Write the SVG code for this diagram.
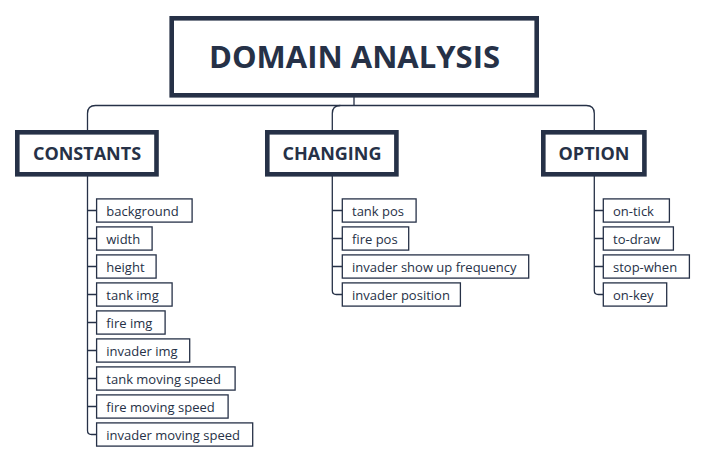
<svg xmlns="http://www.w3.org/2000/svg" width="708" height="463" viewBox="0 0 708 463">
<style>
.main{fill:#fff;stroke:#263147;stroke-width:4.6}
.leaf{fill:#fff;stroke:#263147;stroke-width:1.3}
.t0{font-family:"Open Sans","Liberation Sans",sans-serif;font-weight:bold;font-size:31px;fill:#263147;text-anchor:middle}
.t1{font-family:"Open Sans","Liberation Sans",sans-serif;font-weight:bold;font-size:18px;fill:#263147;text-anchor:middle}
.t2{font-family:"Open Sans","Liberation Sans",sans-serif;font-size:13px;fill:#263147}
.c{fill:none;stroke:#263147;stroke-width:1.3}
</style>
<rect width="708" height="463" fill="#fff"/>
<g id="connectors">
<path class="c" d="M354,97 V105.5"/>
<path class="c" d="M87.5,130 V113.5 Q87.5,105.5 95.5,105.5 H586.3 Q594.3,105.5 594.3,113.5 V130"/>
<path class="c" d="M332.3,130 V113.5 Q332.3,105.5 340.3,105.5"/>
<path class="c" d="M87.5,176 V430.5 Q87.5,434.5 91.5,434.5 H96.5 M87.5,210.5 H96.5 M87.5,238.5 H96.5 M87.5,266.5 H96.5 M87.5,294.5 H96.5 M87.5,322.5 H96.5 M87.5,350.5 H96.5 M87.5,378.5 H96.5 M87.5,406.5 H96.5"/>
<path class="c" d="M332.3,176 V290.5 Q332.3,294.5 336.3,294.5 H342 M332.3,210.5 H342 M332.3,238.5 H342 M332.3,266.5 H342"/>
<path class="c" d="M594.3,176 V290.5 Q594.3,294.5 598.3,294.5 H603 M594.3,210.5 H603 M594.3,238.5 H603 M594.3,266.5 H603"/>
</g>
<g id="root">
<rect class="main" x="171.7" y="18.3" width="365" height="77"/>
<text class="t0" x="354.5" y="68">DOMAIN ANALYSIS</text>
</g>
<g id="constants">
<rect class="main" x="17.3" y="132.3" width="139.2" height="42"/>
<text class="t1" x="87" y="160">CONSTANTS</text>
</g>
<g id="changing">
<rect class="main" x="267.3" y="132.3" width="129.1" height="42"/>
<text class="t1" x="332" y="160">CHANGING</text>
</g>
<g id="option">
<rect class="main" x="543.3" y="132.3" width="101.1" height="42"/>
<text class="t1" x="594" y="160">OPTION</text>
</g>
<g id="c-background"><rect class="leaf" x="96.6" y="198.9" width="95.5" height="23.2"/><text class="t2" x="106.3" y="216">background</text></g>
<g id="c-width"><rect class="leaf" x="96.6" y="226.9" width="55.5" height="23.2"/><text class="t2" x="106.3" y="244">width</text></g>
<g id="c-height"><rect class="leaf" x="96.6" y="254.9" width="59.5" height="23.2"/><text class="t2" x="106.3" y="272">height</text></g>
<g id="c-tankimg"><rect class="leaf" x="96.6" y="282.9" width="75.5" height="23.2"/><text class="t2" x="106.3" y="300">tank img</text></g>
<g id="c-fireimg"><rect class="leaf" x="96.6" y="310.9" width="68.5" height="23.2"/><text class="t2" x="106.3" y="328">fire img</text></g>
<g id="c-invaderimg"><rect class="leaf" x="96.6" y="338.9" width="93.1" height="23.2"/><text class="t2" x="106.3" y="356">invader img</text></g>
<g id="c-tankspeed"><rect class="leaf" x="96.6" y="366.9" width="138.5" height="23.2"/><text class="t2" x="106.3" y="384">tank moving speed</text></g>
<g id="c-firespeed"><rect class="leaf" x="96.6" y="394.9" width="131.5" height="23.2"/><text class="t2" x="106.3" y="412">fire moving speed</text></g>
<g id="c-invaderspeed"><rect class="leaf" x="96.6" y="422.9" width="156.1" height="23.2"/><text class="t2" x="106.3" y="440">invader moving speed</text></g>
<g id="g-tankpos"><rect class="leaf" x="342.3" y="198.9" width="73.8" height="23.2"/><text class="t2" x="352" y="216">tank pos</text></g>
<g id="g-firepos"><rect class="leaf" x="342.3" y="226.9" width="66.4" height="23.2"/><text class="t2" x="352" y="244">fire pos</text></g>
<g id="g-freq"><rect class="leaf" x="342.3" y="254.9" width="186.4" height="23.2"/><text class="t2" x="352" y="272">invader show up frequency</text></g>
<g id="g-invpos"><rect class="leaf" x="342.3" y="282.9" width="118.1" height="23.2"/><text class="t2" x="352" y="300">invader position</text></g>
<g id="o-ontick"><rect class="leaf" x="603.3" y="198.9" width="66.1" height="23.2"/><text class="t2" x="613" y="216">on-tick</text></g>
<g id="o-todraw"><rect class="leaf" x="603.3" y="226.9" width="70.1" height="23.2"/><text class="t2" x="613" y="244">to-draw</text></g>
<g id="o-stopwhen"><rect class="leaf" x="603.3" y="254.9" width="86.1" height="23.2"/><text class="t2" x="613" y="272">stop-when</text></g>
<g id="o-onkey"><rect class="leaf" x="603.3" y="282.9" width="63.4" height="23.2"/><text class="t2" x="613" y="300">on-key</text></g>
</svg>
